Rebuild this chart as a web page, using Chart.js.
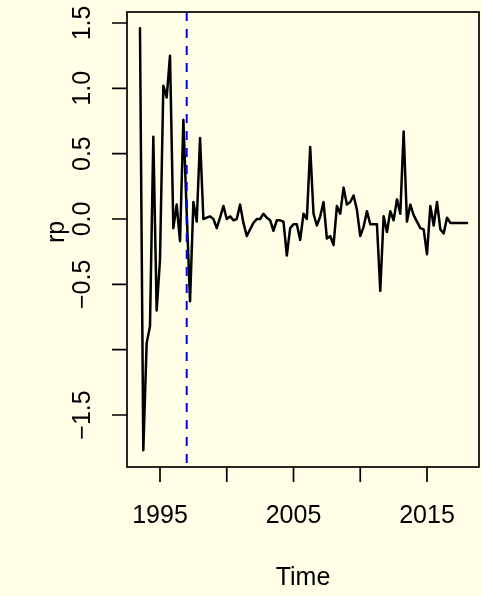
<!DOCTYPE html>
<html>
<head>
<meta charset="utf-8">
<script src="https://cdn.jsdelivr.net/npm/chart.js@4"></script>
<style>
  html, body { margin: 0; padding: 0; background: #ffffe8; }
  canvas { display: block; }
</style>
</head>
<body>
<canvas id="rpChart" width="481" height="596"></canvas>
<script>
// quarterly series, first value at 1993 Q3
const startYear = 1993.5;
const rpValues = [
  1.46, -1.77,                  // 1993
  -0.95, -0.82, 0.63, -0.70,    // 1994
  -0.31, 1.02, 0.93, 1.25,      // 1995
  -0.07, 0.11, -0.17, 0.76,     // 1996
  0.05, -0.63, 0.13, -0.02,     // 1997
  0.62, 0.00, 0.01, 0.02,       // 1998
  0.00, -0.07, 0.01, 0.10,      // 1999
  0.00, 0.02, -0.01, 0.00,      // 2000
  0.11, -0.03, -0.13, -0.08,    // 2001
  -0.03, 0.00, 0.00, 0.04,      // 2002
  0.01, -0.01, -0.09, -0.01,    // 2003
  -0.01, -0.02, -0.28, -0.07,   // 2004
  -0.04, -0.04, -0.16, 0.04,    // 2005
  0.00, 0.55, 0.04, -0.05,      // 2006
  0.02, 0.13, -0.15, -0.13,     // 2007
  -0.20, 0.10, 0.04, 0.24,      // 2008
  0.11, 0.13, 0.18, 0.07,       // 2009
  -0.13, -0.06, 0.06, -0.04,    // 2010
  -0.04, -0.04, -0.55, 0.02,    // 2011
  -0.10, 0.06, -0.01, 0.15,     // 2012
  0.04, 0.67, -0.02, 0.11,      // 2013
  0.03, -0.02, -0.07, -0.08,    // 2014
  -0.27, 0.10, -0.05, 0.13,     // 2015
  -0.08, -0.11, 0.01, -0.03,    // 2016
  -0.03, -0.03, -0.03, -0.03,   // 2017
  -0.03                         // 2018
];
const breakYear = 1997;

const xTicks = [1995, 2000, 2005, 2010, 2015];
const xTickLabels = ["1995", "", "2005", "", "2015"];
const yTicks = [1.5, 1.0, 0.5, 0.0, -0.5, -1.0, -1.5];
const yTickLabels = ["1.5", "1.0", "0.5", "0.0", "\u22120.5", "", "\u22121.5"];

const points = rpValues.map((v, i) => ({ x: startYear + i / 4, y: v }));

const FONT = "25px 'Liberation Sans', Arial, sans-serif";
const BG = "#ffffe8";

// R style axes drawn by hand (rotated y labels, box, outside ticks)
const rAxes = {
  id: "rAxes",
  beforeDraw(chart) {
    const ctx = chart.ctx;
    ctx.save();
    ctx.fillStyle = BG;
    ctx.fillRect(0, 0, chart.width, chart.height);
    ctx.restore();
  },
  afterDatasetsDraw(chart) {
    const ctx = chart.ctx;
    const area = chart.chartArea;
    const px = chart.scales.x.getPixelForValue(breakYear);
    ctx.save();
    ctx.strokeStyle = "#0000ff";
    ctx.lineWidth = 2;
    ctx.setLineDash([9, 8]);
    ctx.beginPath();
    ctx.moveTo(px, area.top);
    ctx.lineTo(px, area.bottom);
    ctx.stroke();
    ctx.restore();
  },
  afterDraw(chart) {
    const ctx = chart.ctx;
    const area = chart.chartArea;
    const xs = chart.scales.x;
    const ys = chart.scales.y;
    ctx.save();
    ctx.strokeStyle = "#000";
    ctx.lineWidth = 1.7;
    ctx.strokeRect(area.left, area.top, area.right - area.left, area.bottom - area.top);

    ctx.fillStyle = "#000";
    ctx.font = FONT;

    // x axis
    ctx.beginPath();
    xTicks.forEach((t) => {
      const p = xs.getPixelForValue(t);
      ctx.moveTo(p, area.bottom);
      ctx.lineTo(p, area.bottom + 15);
    });
    ctx.stroke();
    ctx.textAlign = "center";
    ctx.textBaseline = "alphabetic";
    xTicks.forEach((t, i) => {
      if (xTickLabels[i]) ctx.fillText(xTickLabels[i], xs.getPixelForValue(t), 523);
    });
    ctx.fillText("Time", (area.left + area.right) / 2, 585);

    // y axis
    ctx.beginPath();
    yTicks.forEach((t) => {
      const p = ys.getPixelForValue(t);
      ctx.moveTo(area.left, p);
      ctx.lineTo(area.left - 15, p);
    });
    ctx.stroke();
    yTicks.forEach((t, i) => {
      if (!yTickLabels[i]) return;
      ctx.save();
      ctx.translate(90, ys.getPixelForValue(t));
      ctx.rotate(-Math.PI / 2);
      ctx.fillText(yTickLabels[i], 0, 0);
      ctx.restore();
    });
    ctx.save();
    ctx.translate(64, 232);
    ctx.rotate(-Math.PI / 2);
    ctx.fillText("rp", 0, 0);
    ctx.restore();
    ctx.restore();
  }
};

new Chart(document.getElementById("rpChart"), {
  type: "scatter",
  data: {
    datasets: [{
      data: points,
      showLine: true,
      borderColor: "#000",
      borderWidth: 2.5,
      borderJoinStyle: "round",
      borderCapStyle: "round",
      pointRadius: 0,
      tension: 0
    }]
  },
  options: {
    responsive: false,
    animation: false,
    layout: { padding: { left: 127, top: 12, right: 2, bottom: 129 } },
    plugins: { legend: { display: false }, tooltip: { enabled: false } },
    scales: {
      x: { type: "linear", display: false, min: 1992.528, max: 2018.895 },
      y: { type: "linear", display: false, min: -1.898, max: 1.584 }
    }
  },
  plugins: [rAxes]
});
</script>
</body>
</html>
